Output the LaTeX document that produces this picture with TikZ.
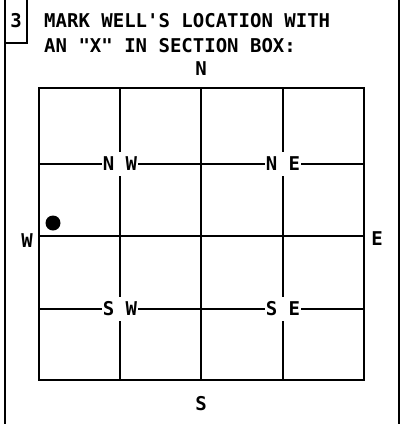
\documentclass[tikz,border=0pt]{standalone}
\usepackage{fontspec}
\newfontfamily\plotfont{DejaVu Sans Mono}
\usetikzlibrary{positioning}

\begin{document}
\begin{tikzpicture}[x=1pt, y=-1pt,
  frame/.style={line width=1.6pt},
  gridline/.style={line width=2pt},
  lbl/.style={font=\plotfont\bfseries\fontsize{19}{24.5}\selectfont, inner sep=0pt},
  seclbl/.style={lbl, fill=white, inner xsep=0.6pt, inner ysep=4.6pt}]
  \useasboundingbox (0,0) rectangle (402,424);
  % Frame
  \draw[frame] (5,0) -- (5,424);
  \draw[frame] (399,0) -- (399,424);
  \draw[frame] (27,0) -- (27,43) -- (5,43);
  \node[lbl] (num) at (16,21) {3};
  % Title
  \node[lbl, anchor=base west] (title1) at (44,27) {MARK WELL'S LOCATION WITH};
  \node[lbl, anchor=base west] (title2) at (44,52) {AN "X" IN SECTION BOX:};
  % Section box
  \draw[gridline] (39,88) rectangle (364,380);
  \foreach \x in {120,201,283}
    \draw[gridline] (\x,88) -- (\x,380);
  \foreach \y in {164,236,309}
    \draw[gridline] (39,\y) -- (364,\y);
  % Quarter labels
  \node[seclbl] (nw) at (120,164) {N W};
  \node[seclbl] (ne) at (283,164) {N E};
  \node[seclbl] (sw) at (120,309) {S W};
  \node[seclbl] (se) at (283,309) {S E};
  % Compass points
  \node[lbl] (north) at (201,69) {N};
  \node[lbl] (south) at (201,404) {S};
  \node[lbl] (west) at (27,241) {W};
  \node[lbl] (east) at (377,239) {E};
  % Well
  \node[circle, fill=black, inner sep=0pt, minimum size=15pt] (well) at (53,223) {};
\end{tikzpicture}
\end{document}
